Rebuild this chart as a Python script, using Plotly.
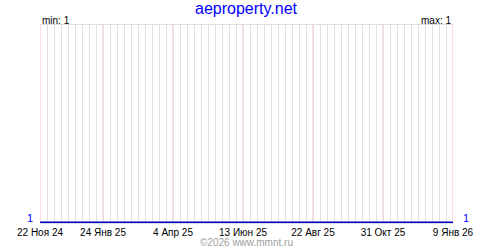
import plotly.graph_objects as go

# Data
dates = ["2024-11-22", "2026-01-09"]
values = [1, 1]
tick_dates = ["2024-11-22", "2025-01-24", "2025-04-04", "2025-06-13",
              "2025-08-22", "2025-10-31", "2026-01-09"]
tick_labels = ["22 Ноя 24", "24 Янв 25", "4 Апр 25", "13 Июн 25",
               "22 Авг 25", "31 Окт 25", "9 Янв 26"]
title_text = "aeproperty.net"
min_val = min(values)
max_val = max(values)
footer = "©2026 www.mmnt.ru"

FONT = "Liberation Sans, Arial, sans-serif"
WEEK_MS = 7 * 24 * 3600 * 1000

fig = go.Figure()
fig.add_trace(go.Scatter(
    x=dates, y=values, mode="lines",
    line=dict(color="#0000cc", width=2),
    hoverinfo="skip", showlegend=False,
))

fig.update_layout(
    width=500, height=250,
    margin=dict(l=40, r=47, t=25, b=25),
    paper_bgcolor="white", plot_bgcolor="white",
    font=dict(family=FONT, size=10, color="black"),
    showlegend=False,
    xaxis=dict(
        range=[dates[0], dates[-1]],
        tickvals=tick_dates, ticktext=tick_labels,
        showgrid=False,
        minor=dict(dtick=WEEK_MS, tick0=dates[0], showgrid=True,
                   gridcolor="#e0e0e0", gridwidth=1),
        showline=True, mirror=True, linecolor="#dddddd", linewidth=1,
        ticks="", ticklabelstandoff=0,
        tickfont=dict(family=FONT, size=10, color="black"),
        zeroline=False, layer="below traces", fixedrange=True,
    ),
    yaxis=dict(
        range=[0.997, 2], visible=False, showgrid=False, zeroline=False,
        fixedrange=True,
    ),
)

# pink separators at the labelled dates
for d in tick_dates:
    fig.add_shape(type="line", xref="x", yref="paper", x0=d, x1=d, y0=0, y1=1,
                  line=dict(color="#ffc0c0", width=1), layer="between")

annotations = [
    dict(text=title_text, xref="paper", yref="paper", x=0.5, y=1.085,
         xanchor="center", yanchor="middle", showarrow=False,
         font=dict(family=FONT, size=16, color="#0000ff")),
    dict(text=f"min: {min_val}", xref="paper", yref="paper", x=0.0, y=1.025,
         xanchor="left", yanchor="middle", showarrow=False,
         font=dict(family=FONT, size=10, color="black")),
    dict(text=f"max: {max_val}", xref="paper", yref="paper", x=1.0, y=1.025,
         xanchor="right", yanchor="middle", showarrow=False,
         font=dict(family=FONT, size=10, color="black")),
    dict(text=str(values[0]), xref="paper", yref="y", x=0.0, y=values[0],
         xanchor="right", yanchor="middle", xshift=-5, yshift=4, showarrow=False,
         font=dict(family=FONT, size=11, color="#0000ff")),
    dict(text=str(values[-1]), xref="paper", yref="y", x=1.0, y=values[-1],
         xanchor="left", yanchor="middle", xshift=8, yshift=4, showarrow=False,
         font=dict(family=FONT, size=11, color="#0000ff")),
    dict(text=footer, xref="paper", yref="paper", x=0.5, y=-0.097,
         xanchor="center", yanchor="middle", showarrow=False,
         font=dict(family=FONT, size=10, color="#a0a0a0")),
]
fig.update_layout(annotations=annotations)

fig.write_html("out.html", config={"displayModeBar": False})
